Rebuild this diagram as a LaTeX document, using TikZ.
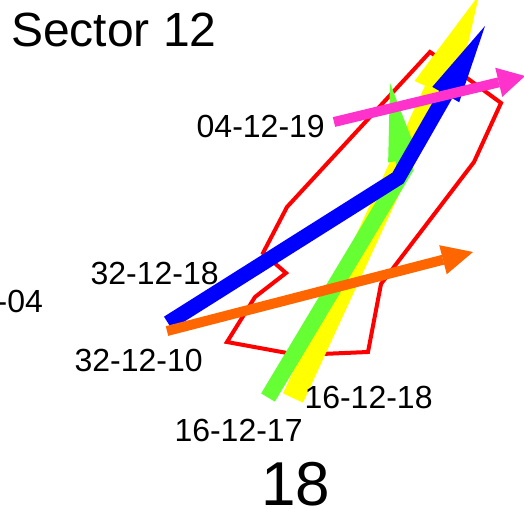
\documentclass[tikz,border=0pt]{standalone}
\usepackage{fontspec}
\setmainfont{Liberation Sans}
\usetikzlibrary{arrows.meta}

\definecolor{trkred}{RGB}{255,0,0}
\definecolor{trkyellow}{RGB}{255,255,0}
\definecolor{trkgreen}{RGB}{102,255,51}
\definecolor{trkblue}{RGB}{0,0,255}
\definecolor{trkorange}{RGB}{255,102,0}
\definecolor{trkpink}{RGB}{255,51,204}

\begin{document}
\begin{tikzpicture}[x=1pt, y=-1pt,
    every node/.style={inner sep=0pt, outer sep=0pt},
    lbl/.style={font=\fontsize{32}{32}\selectfont, anchor=base west},
    track/.style={line width=#1},
    longhead/.style={-{Triangle[length=#1, width=31pt, line width=0pt]}},
    shorthead/.style={-{Triangle[length=#1, width=30pt, line width=0pt]}}]
    \useasboundingbox (0,0) rectangle (524,508);
    \clip (0,0) rectangle (524,508);

    % sector outline
    \draw[trkred, line width=4pt] (430,52) -- (287,207) -- (263,253) -- (286,273) -- (255,297) -- (227,342)
        -- (298,355) -- (368,352) -- (381,284) -- (474,162) -- (501,103) -- (467,78) -- cycle;

    % track points
    \coordinate (ylwA) at (293,398);
    \coordinate (ylwB) at (479,-5);
    \coordinate (grnA) at (268,397.5);
    \coordinate (grnB) at (405,169);
    \coordinate (grnC) at (390,83);
    \coordinate (bluA) at (168,323);
    \coordinate (bluB) at (398,178);
    \coordinate (bluC) at (485,26);
    \coordinate (orgA) at (167,331);
    \coordinate (orgB) at (473,252);
    \coordinate (pnkA) at (334,122);
    \coordinate (pnkB) at (525,76);

    \draw[trkyellow, track=22pt, -{Triangle[length=105pt, width=45pt, line width=0pt]}] (ylwA) -- (ylwB);
    \draw[trkgreen, track=16pt, longhead=78pt] (grnA) -- (grnB) -- (grnC);
    \draw[trkblue, track=15pt, longhead=79pt] (bluA) -- (bluB) -- (bluC);
    \draw[trkorange, track=10pt, shorthead=31pt] (orgA) -- (orgB);
    \draw[trkpink, track=10pt, shorthead=27pt] (pnkA) -- (pnkB);

    % labels
    \node[font=\fontsize{48}{48}\selectfont, anchor=base west] (title) at (11,47) {Sector 12};
    \node[lbl] (l041219) at (196.7,137) {04-12-19};
    \node[lbl] (l321218) at (90.6,284) {32-12-18};
    \node[lbl, anchor=base east] (l04) at (43,312) {-04};
    \node[lbl] (l321210) at (74.6,371) {32-12-10};
    \node[lbl] (l161218) at (304.5,408) {16-12-18};
    \node[lbl] (l161217) at (174.5,441) {16-12-17};
    \node[font=\fontsize{62}{62}\selectfont, anchor=base west] (runway) at (261,505) {18};
\end{tikzpicture}
\end{document}
